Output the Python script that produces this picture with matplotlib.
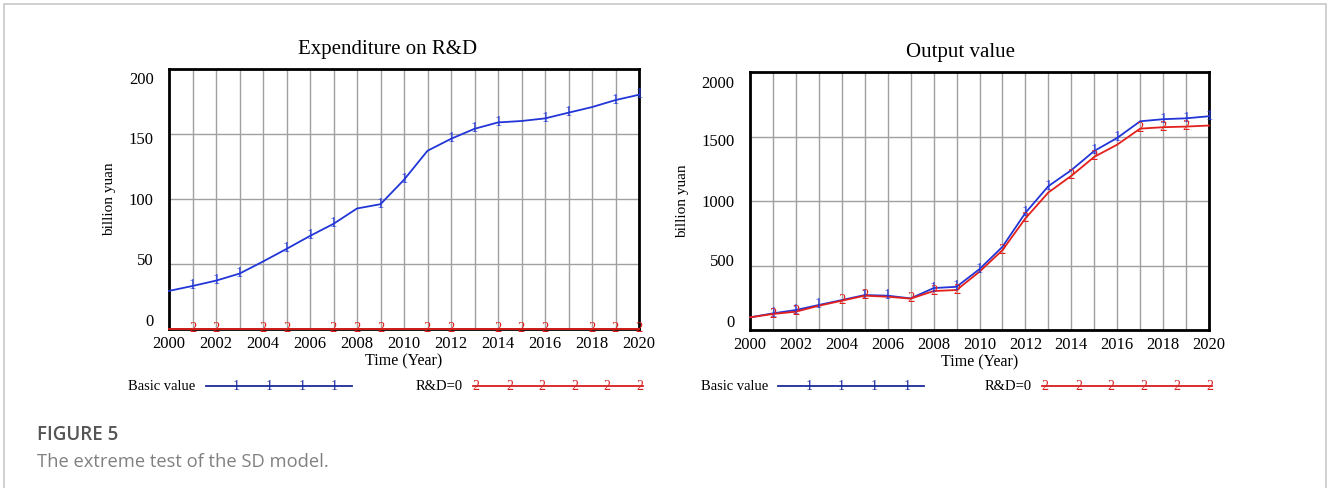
import matplotlib
matplotlib.use("Agg")
import matplotlib.pyplot as plt
import matplotlib.transforms as mtransforms
from matplotlib.lines import Line2D
from matplotlib.patches import Rectangle

# ---------------- data ----------------
years = list(range(2000, 2021))

rd_basic = [29.3, 33.1, 37.2, 42.6, 51.9, 61.6, 71.6, 80.9, 92.7, 96.0, 114.8,
            137.1, 146.3, 154.0, 158.9, 160.0, 162.0, 166.4, 170.7, 176.1, 180.2]
rd_zero = [0] * 21

out_basic = [98, 129, 155, 194, 232, 271, 266, 245, 325, 335, 472,
             645, 908, 1115, 1239, 1388, 1489, 1618, 1634, 1641, 1657]
out_zero = [98, 124, 142, 188, 227, 266, 258, 243, 302, 310, 452,
            619, 865, 1066, 1195, 1342, 1437, 1561, 1572, 1577, 1585]

# years at which the Vensim-style series labels "1" / "2" sit
rd_basic_marks = [2001, 2002, 2003, 2005, 2006, 2007, 2009, 2010, 2012, 2013, 2014, 2016, 2017, 2019, 2020]
rd_zero_marks = [2001, 2002, 2004, 2005, 2007, 2008, 2009, 2011, 2012, 2014, 2015, 2016, 2018, 2019, 2020]
out_basic_marks = [2001, 2002, 2003, 2005, 2006, 2008, 2009, 2010, 2012, 2013, 2015, 2016, 2018, 2019, 2020]
out_zero_marks = [2001, 2002, 2004, 2005, 2007, 2008, 2009, 2011, 2012, 2014, 2015, 2017, 2018, 2019]

titles = ["Expenditure on R&D", "Output value"]
ylabel = "billion yuan"
xlabel = "Time (Year)"
series_names = ["Basic value", "R&D=0"]
xticks = list(range(2000, 2021, 2))
rd_yticks = [0, 50, 100, 150, 200]
out_yticks = [0, 500, 1000, 1500, 2000]

# ---------------- style ----------------
W, H = 1328, 488
BLUE = "#2236d8"
RED = "#e3201b"
BLUE_LEG = "#1a2a9c"
RED_LEG = "#d81e1e"
SERIF = ["Liberation Serif", "DejaVu Serif"]
SANS = ["Open Sans", "DejaVu Sans"]

plt.rcParams["font.family"] = SERIF

fig = plt.figure(figsize=(W / 100, H / 100), dpi=100)


def fx(px):
    return px / W


def fy(py):
    return 1 - py / H


# outer light border
fig.patches.append(Rectangle((fx(4), -0.05), fx(1322), fy(4) + 0.05,
                             transform=fig.transFigure, fill=False,
                             edgecolor="#c8c8c8", linewidth=1.2))


def make_axes(left, right, top, bottom):
    return fig.add_axes([fx(left), fy(bottom), fx(right - left), (bottom - top) / H])


def style_axes(ax, yticks, ymax, label_offsets_px, title, title_x, ylab_x_px):
    ax.set_xlim(2000, 2020)
    ax.set_ylim(0, ymax)
    ax.set_xticks(years, minor=True)
    ax.set_xticks(xticks)
    ax.set_xticklabels([str(t) for t in xticks], fontsize=12)
    ax.set_yticks(yticks)
    ax.set_yticklabels([str(t) for t in yticks], fontsize=12)
    ax.tick_params(axis="both", which="both", length=0)
    ax.tick_params(axis="x", pad=5)
    ax.tick_params(axis="y", pad=11)
    ax.grid(True, axis="x", which="both", color="#a0a0a0", linewidth=1.0)
    ax.grid(True, axis="y", which="major", color="#a0a0a0", linewidth=1.0)
    ax.set_axisbelow(True)
    for s in ax.spines.values():
        s.set_linewidth(2.0)
        s.set_color("black")
    ax.set_title(title, fontsize=15, pad=11, x=title_x)
    ax.set_xlabel(xlabel, fontsize=11.5, labelpad=1)
    ax.set_ylabel(ylabel, fontsize=11)
    for lab, dy in zip(ax.get_yticklabels(), label_offsets_px):
        lab.set_transform(lab.get_transform() +
                          mtransforms.ScaledTranslation(0, dy / 100, fig.dpi_scale_trans))
    ax.yaxis.set_label_coords(ylab_x_px, 0.5, transform=mtransforms.blended_transform_factory(
        fig.transFigure, ax.transAxes))


def draw_series(ax, y, marks, color, tag):
    ax.plot(years, y, color=color, linewidth=1.3, zorder=5, clip_on=False)
    for yr in marks:
        ax.text(yr, y[years.index(yr)], tag, color=color, fontsize=10.5,
                ha="center", va="center", zorder=6, clip_on=False,
                family=SERIF)


# left panel
ax1 = make_axes(169, 639, 69, 329)
style_axes(ax1, rd_yticks, 200, [9, 5, 0, -4, -9], titles[0], 0.466, fx(116))
draw_series(ax1, rd_basic, rd_basic_marks, BLUE, "1")
draw_series(ax1, rd_zero, rd_zero_marks, RED, "2")

# right panel
ax2 = make_axes(750, 1209, 72, 330)
style_axes(ax2, out_yticks, 2000, [9, 5, 0, -3, -10], titles[1], 0.458, fx(689))
draw_series(ax2, out_basic, out_basic_marks, BLUE, "1")
draw_series(ax2, out_zero, out_zero_marks, RED, "2")


# legends (Vensim style)
def legend_entry(name, text_right_px, x0, x1, mark_xs, color, tag, y_px=386):
    fig.text(fx(text_right_px), fy(y_px), name, ha="right", va="center",
             fontsize=10.5, family=SERIF)
    fig.add_artist(Line2D([fx(x0), fx(x1)], [fy(y_px), fy(y_px)],
                          transform=fig.transFigure, color=color, linewidth=1.3))
    for mx in mark_xs:
        fig.text(fx(mx), fy(y_px), tag, ha="center", va="center",
                 color=color, fontsize=10, family=SERIF)


legend_entry(series_names[0], 195, 206, 352, [236, 269, 302, 334], BLUE_LEG, "1")
legend_entry(series_names[1], 463, 473, 643, [476, 510, 542, 575, 607, 640], RED_LEG, "2")
legend_entry(series_names[0], 768, 778, 924, [809, 841, 874, 907], BLUE_LEG, "1")
legend_entry(series_names[1], 1032, 1042, 1212, [1045, 1079, 1111, 1144, 1177, 1210], RED_LEG, "2")

# caption
fig.text(fx(37), fy(440), "FIGURE 5", fontsize=13.5, fontweight="semibold",
         color="#555555", family=SANS, va="baseline")
fig.text(fx(37), fy(467), "The extreme test of the SD model.", fontsize=13.2,
         color="#808080", family=SANS, va="baseline")

fig.savefig("out.png", dpi=100)
